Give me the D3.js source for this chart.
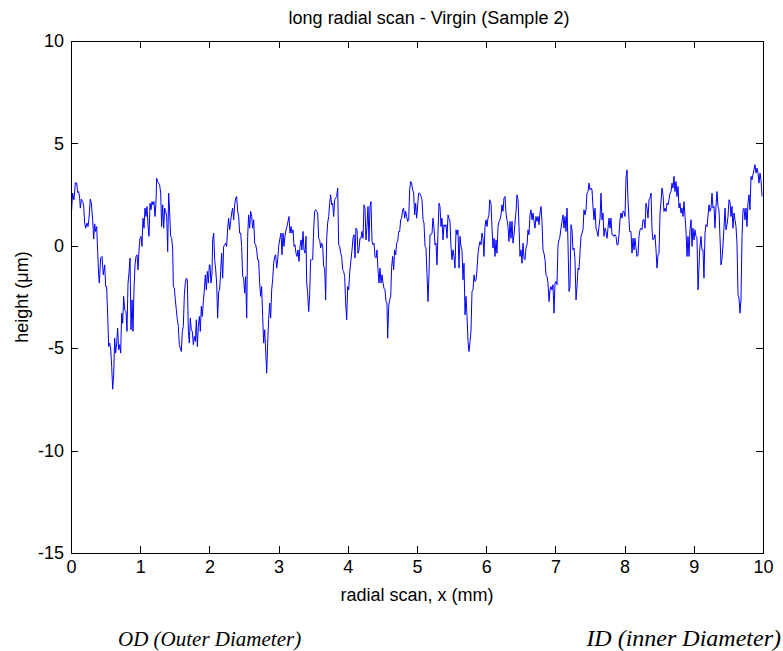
<!DOCTYPE html>
<html>
<head>
<meta charset="utf-8">
<script src="https://cdn.jsdelivr.net/npm/d3@7"></script>
<style>
  body { margin: 0; background: #fff; }
  svg { display: block; font-family: "Liberation Sans", Arial, sans-serif; }
  .axis path, .axis line { stroke: #000; shape-rendering: crispEdges; }
  .axis text { font-size: 18px; fill: #000; }
</style>
</head>
<body>
<svg width="783" height="651"></svg>
<script>
// radial position along the scan (mm)
var scanX = [
  0.005,
  0.014,0.024,0.043,0.063,0.082,0.096,0.111,0.125,0.135,0.149,
  0.169,0.183,0.198,0.212,0.231,0.246,0.260,0.279,0.294,0.313,
  0.328,0.342,0.356,0.371,0.385,0.400,0.409,0.429,0.448,0.467,
  0.487,0.501,0.515,0.530,0.544,0.559,0.573,0.588,0.602,0.617,
  0.631,0.645,0.660,0.674,0.689,0.703,0.718,0.732,0.747,0.761,
  0.776,0.795,0.809,0.824,0.838,0.853,0.867,0.882,0.896,0.910,
  0.925,0.939,0.954,0.968,0.983,0.997,
  1.012,1.026,1.040,1.055,1.069,1.084,1.098,1.113,1.127,1.142,
  1.156,1.171,1.185,1.199,1.214,1.228,1.238,1.252,1.267,1.281,
  1.296,1.310,1.325,1.339,1.354,1.368,1.383,1.397,1.411,1.426,
  1.440,1.455,1.469,1.479,1.493,1.508,1.522,1.537,1.551,1.565,
  1.580,1.594,1.609,1.623,1.638,1.652,1.667,1.681,1.696,1.710,
  1.724,1.739,1.753,1.768,1.782,1.797,1.811,1.826,1.840,1.855,
  1.869,1.883,1.898,1.912,1.927,1.941,1.956,1.970,1.985,1.999,
  2.009,2.023,2.038,2.047,2.062,2.076,2.091,2.105,2.119,2.134,
  2.148,2.163,2.177,2.192,2.206,2.221,2.235,2.250,2.264,2.278,
  2.293,2.307,2.322,2.336,2.351,2.365,2.380,2.394,2.409,2.423,
  2.437,2.452,2.466,2.481,2.495,2.510,2.524,2.539,2.553,2.567,
  2.582,2.596,2.611,2.625,2.640,2.654,2.669,2.683,2.697,2.712,
  2.726,2.741,2.755,2.770,2.784,2.799,2.813,2.828,2.842,2.856,
  2.871,2.885,2.900,2.914,2.929,2.943,2.958,2.972,2.987,3.001,
  3.015,
  3.035,3.049,3.064,3.078,3.092,3.107,3.121,3.136,3.150,3.165,
  3.179,3.194,3.208,3.223,3.237,3.251,3.266,3.280,3.295,3.309,
  3.324,3.338,3.353,3.367,3.382,3.396,3.406,3.420,3.435,3.449,
  3.463,3.478,3.492,3.507,3.521,3.536,3.550,3.565,3.579,3.594,
  3.608,3.622,3.637,3.651,3.666,3.680,3.695,3.709,3.724,3.738,
  3.752,3.767,3.781,3.796,3.810,3.825,3.839,3.854,3.868,3.883,
  3.897,3.911,3.926,3.940,3.955,3.969,3.984,3.998,4.013,4.027,
  4.046,4.061,4.075,4.090,4.104,4.118,4.133,4.147,4.162,4.176,
  4.191,4.205,4.220,4.234,4.249,4.263,4.277,4.292,4.306,4.321,
  4.335,4.350,4.364,4.379,4.393,4.408,4.422,4.436,4.451,4.465,
  4.480,4.494,4.509,4.523,4.538,4.552,4.566,4.576,4.591,4.605,
  4.620,4.634,4.648,4.663,4.677,4.692,4.706,4.721,4.735,4.750,
  4.764,4.778,4.793,4.807,4.822,4.836,4.851,4.865,4.880,4.894,
  4.908,4.923,4.937,4.952,4.966,4.981,4.995,5.010,5.024,5.039,
  5.058,5.072,5.087,5.101,5.116,5.130,5.145,5.159,5.173,5.188,
  5.202,5.217,5.231,5.246,5.260,5.275,5.289,5.303,5.318,5.332,
  5.347,5.361,5.376,5.390,5.405,5.419,5.434,5.448,5.462,5.477,
  5.491,5.506,5.520,5.535,5.549,5.564,5.578,5.592,5.607,5.621,
  5.636,5.650,5.665,5.679,5.694,5.708,5.723,5.737,5.751,5.766,
  5.780,5.795,5.809,5.824,5.838,5.853,5.867,5.882,5.896,5.910,
  5.925,5.939,5.954,5.968,5.983,5.997,6.012,6.026,6.040,6.050,
  6.069,6.084,6.098,6.113,6.127,6.142,6.156,6.171,6.185,6.199,
  6.214,6.228,6.243,6.257,6.272,6.286,6.301,6.315,6.329,6.344,
  6.358,6.373,6.387,6.402,6.416,6.431,6.445,6.460,6.474,6.488,
  6.503,6.517,6.532,6.546,6.561,6.575,6.590,6.604,6.618,6.633,
  6.647,6.662,6.676,6.691,6.705,6.720,6.734,6.749,6.763,6.777,
  6.792,6.806,6.821,6.835,6.850,6.864,6.879,6.893,6.908,6.922,
  6.936,6.951,6.965,6.980,6.994,7.009,7.023,7.038,7.052,7.062,
  7.081,7.095,7.110,7.124,7.139,7.153,7.168,7.182,7.197,7.211,
  7.225,7.240,7.254,7.269,7.283,7.298,7.312,7.327,7.341,7.355,
  7.370,7.384,7.399,7.413,7.428,7.442,7.457,7.471,7.486,7.500,
  7.514,7.529,7.543,7.558,7.572,7.587,7.601,7.616,7.630,7.645,
  7.659,7.673,7.688,7.702,7.717,7.731,7.746,7.760,7.775,7.789,
  7.803,7.818,7.832,7.847,7.861,7.876,7.890,7.905,7.919,7.934,
  7.948,7.962,7.977,7.991,8.006,8.020,8.035,8.049,8.064,8.073,
  8.092,8.107,8.121,8.136,8.150,8.165,8.179,8.194,8.208,8.223,
  8.237,8.251,8.266,8.280,8.295,8.309,8.324,8.338,8.353,8.367,
  8.382,8.396,8.410,8.425,8.439,8.454,8.468,8.483,8.497,8.512,
  8.526,8.540,8.555,8.569,8.584,8.598,8.613,8.627,8.642,8.656,
  8.671,8.685,8.699,8.714,8.728,8.743,8.757,8.772,8.786,8.801,
  8.815,8.829,8.844,8.858,8.873,8.887,8.902,8.916,8.931,8.945,
  8.960,8.974,8.988,9.003,9.017,9.032,9.046,9.061,9.075,9.085,
  9.104,9.118,9.133,9.147,9.162,9.176,9.191,9.205,9.220,9.234,
  9.249,9.263,9.277,9.292,9.306,9.321,9.335,9.350,9.364,9.379,
  9.393,9.408,9.422,9.436,9.451,9.465,9.480,9.494,9.509,9.523,
  9.538,9.552,9.566,9.581,9.595,9.610,9.624,9.639,9.653,9.668,
  9.682,9.697,9.711,9.725,9.740,9.754,9.769,9.783,9.798,9.812,
  9.827,9.841,9.855,9.870,9.884,9.899,9.913,9.928,9.942,9.957,
  9.971,9.986
];

// surface height (um) at each scanX position
var heightUm = [
  1.51,
  2.08,2.57,2.25,3.09,3.06,2.60,2.65,2.33,1.84,2.28,
  2.16,1.95,1.11,0.86,1.11,0.94,1.35,2.28,2.08,1.27,
  0.33,1.07,0.70,0.94,-0.28,-1.42,-1.82,-0.60,-0.52,-1.42,
  -0.93,-1.99,-1.99,-3.37,-4.92,-4.75,-5.00,-5.89,-7.00,-6.30,
  -4.51,-5.24,-4.75,-4.02,-5.08,-4.83,-5.24,-3.29,-3.78,-2.47,
  -3.13,-3.21,-4.18,-1.82,-1.33,-0.60,-4.10,-2.64,-4.18,-2.15,
  -0.93,-0.52,-0.44,-1.17,-0.20,0.37,
  0.46,-0.03,1.35,0.86,1.84,1.43,1.92,1.03,0.46,2.08,
  1.76,2.16,2.00,2.16,1.43,2.08,3.30,3.14,3.06,2.98,
  2.57,0.94,2.00,0.86,1.84,1.68,1.43,-0.28,2.57,1.60,
  0.46,0.37,-0.11,-1.99,-2.07,-2.64,-3.13,-3.61,-3.94,-4.83,
  -5.00,-5.16,-4.18,-3.94,-2.39,-1.82,-1.58,-1.66,-4.18,-4.75,
  -3.53,-4.10,-4.18,-4.83,-4.43,-4.67,-3.61,-4.92,-3.94,-3.45,
  -4.18,-2.96,-3.45,-2.72,-2.15,-1.42,-2.15,-1.25,-1.82,-0.93,
  -0.93,-1.82,-1.33,0.29,0.62,-0.68,-1.17,-1.82,-3.53,-2.23,
  -2.15,-1.25,-0.36,-1.58,-0.03,0.05,0.13,-0.03,0.86,1.35,
  0.78,1.19,1.60,1.84,1.27,2.00,2.33,2.41,1.68,1.43,
  0.62,0.62,-0.03,-1.50,-1.58,-2.31,-1.50,-3.53,0.46,1.51,
  0.86,1.68,1.43,0.86,1.27,0.13,0.05,-0.20,-0.68,-0.68,
  -1.82,-2.47,-1.99,-3.45,-4.75,-4.10,-5.08,-6.22,-4.75,-3.61,
  -2.80,-3.53,-2.15,-1.66,-0.85,-0.52,-0.44,-1.09,-0.68,-0.03,
  0.29,
  0.62,-0.44,0.62,-0.03,0.46,0.78,0.94,1.19,1.43,0.62,
  0.94,0.62,0.78,-0.03,0.05,-0.36,-0.52,-0.20,-0.76,-0.03,
  0.29,-0.20,0.70,-0.20,-0.36,0.46,-1.82,-2.31,-3.21,-2.39,
  -0.68,-0.68,-0.68,0.78,1.68,1.76,1.68,1.60,0.37,0.29,
  -0.11,0.13,-0.03,-1.01,-1.09,-2.64,0.37,1.11,1.43,2.08,
  2.49,2.00,2.08,1.43,2.25,2.33,2.41,2.82,0.05,-0.03,
  -0.36,-0.52,-1.17,-1.25,-1.50,-2.80,-3.61,-1.99,-2.15,-1.33,
  -0.68,-0.20,0.37,0.54,-0.60,0.86,0.78,-0.36,-0.20,0.37,
  0.37,0.70,0.37,2.00,1.84,0.29,0.94,1.92,0.21,1.92,
  2.16,0.21,0.05,0.13,-0.52,-0.60,-0.20,-1.17,-1.82,-1.09,
  -1.82,-1.42,-1.82,-2.07,-2.15,-2.72,-2.80,-4.51,-2.96,-2.64,
  -2.47,-1.01,-0.52,-1.17,-0.20,-0.44,0.13,0.21,0.70,0.70,
  1.27,1.35,1.76,1.84,1.35,1.68,1.43,1.19,1.27,2.73,
  3.14,3.06,2.73,2.57,1.51,2.08,1.35,2.00,2.57,2.57,
  2.41,2.25,1.27,1.11,-0.03,-0.11,-1.42,-2.72,-1.42,0.54,
  0.54,0.62,1.35,0.86,0.05,0.13,-0.93,0.62,2.08,1.92,
  0.94,1.35,0.29,1.03,0.94,1.03,0.37,1.51,1.35,1.19,
  -0.03,-0.68,-0.20,-0.52,-1.09,0.78,0.54,0.78,-1.09,0.46,
  -0.03,-0.20,-1.66,-0.85,-3.37,-2.47,-3.45,-4.67,-5.16,-4.67,
  -4.18,-2.23,-2.15,-1.42,-1.74,-1.66,-1.17,-0.36,-0.03,0.21,
  0.05,0.62,0.37,-0.52,0.94,1.27,0.94,1.35,1.51,2.25,
  2.08,0.86,-0.11,0.37,-0.52,0.29,-0.36,0.94,1.19,1.27,
  1.51,2.00,1.68,2.33,2.41,1.60,1.27,0.94,0.21,1.19,
  0.37,1.19,0.13,0.54,1.11,1.68,2.49,2.25,0.94,-0.52,
  -0.20,-0.85,0.13,-0.60,-0.68,-0.11,0.05,0.78,0.54,1.51,
  1.76,1.27,1.60,1.19,0.86,1.43,1.19,1.43,1.03,1.60,
  1.92,1.19,-0.20,-0.36,-0.68,-1.42,-1.50,-1.82,-2.72,-2.15,
  -1.99,-2.15,-1.90,-3.29,-1.82,-1.74,-1.90,0.05,0.29,0.37,
  0.86,1.19,1.51,0.86,1.43,0.70,1.84,0.13,-2.23,-1.99,
  1.03,0.78,-0.20,-0.11,-0.68,-2.64,-1.99,-1.09,-1.17,-0.36,
  0.46,0.62,0.78,1.76,1.51,1.76,2.57,2.65,3.06,2.73,
  2.82,2.73,1.92,1.27,1.84,0.86,0.70,0.46,0.94,1.35,
  2.57,1.27,1.60,0.46,0.86,0.70,0.37,0.86,1.35,0.86,
  1.35,0.54,0.54,0.46,0.54,0.46,0.05,0.05,0.54,1.27,
  1.60,1.35,1.68,1.68,1.43,3.30,3.71,2.25,1.27,0.70,
  0.70,-0.36,0.37,-0.20,0.37,-0.11,-0.52,-0.44,0.46,0.78,
  0.86,0.78,1.27,1.27,0.86,2.08,1.84,1.35,2.25,2.33,
  2.57,0.78,0.29,0.37,0.54,-0.20,-1.09,-0.44,-0.36,1.60,
  2.16,2.82,2.49,1.68,1.84,1.68,2.08,2.00,2.25,2.57,
  2.65,3.06,2.82,3.39,2.65,3.14,2.41,2.90,1.84,2.08,
  1.60,1.84,1.43,2.16,1.43,0.78,-0.52,0.46,-0.52,0.78,
  1.27,-0.03,0.86,0.29,0.78,0.46,0.37,-2.15,-1.09,-0.20,
  0.46,-0.20,-0.20,-1.58,0.62,1.03,0.94,1.43,2.00,1.68,
  1.84,2.57,1.84,1.92,0.86,1.92,2.65,1.92,1.76,0.37,
  -0.93,-0.60,0.05,0.86,1.84,0.78,1.03,1.43,2.25,2.16,
  1.43,1.92,0.86,1.60,1.27,0.94,0.13,-2.39,-2.55,-3.29,
  -2.64,0.46,1.76,1.84,1.27,1.84,0.94,2.08,2.49,1.76,
  3.39,3.22,3.47,3.71,3.96,3.55,3.79,3.55,3.06,3.55,
  3.22,2.41
];

var xTicks = [0, 1, 2, 3, 4, 5, 6, 7, 8, 9, 10];
var yTicks = [-15, -10, -5, 0, 5, 10];
var xDomain = [0, 10];
var yDomain = [-15, 10];

var chartTitle = 'long radial scan - Virgin (Sample 2)';
var xTitle = 'radial scan, x (mm)';
var yTitle = 'height (\u03bcm)';
var leftNote = 'OD (Outer Diameter)';
var rightNote = 'ID (inner Diameter)';

var svg = d3.select('svg');

// plot box
var box = {l: 71, t: 41, r: 763, b: 553};
var tickLen = 7;

var x = d3.scaleLinear().domain(xDomain).range([box.l, box.r]);
var y = d3.scaleLinear().domain(yDomain).range([box.b, box.t]);

// plain hyphen for negatives, like the original
var plainNum = function(d) { return String(d); };

var points = scanX.map(function(d, i) { return [d, heightUm[i]]; });

// the profile
svg.append('path')
    .datum(points)
    .attr('fill', 'none')
    .attr('stroke', '#0000ff')
    .attr('stroke-width', 1)
    .attr('d', d3.line()
        .x(function(d) { return x(d[0]); })
        .y(function(d) { return y(d[1]); }));

// axes, ticks pointing inwards like matlab
svg.append('g')
    .attr('class', 'axis')
    .attr('transform', 'translate(0,' + box.b + ')')
    .call(d3.axisBottom(x).tickValues(xTicks).tickFormat(plainNum)
        .tickSizeInner(-tickLen).tickSizeOuter(0).tickPadding(7));

svg.append('g')
    .attr('class', 'axis')
    .attr('transform', 'translate(' + box.l + ',0)')
    .call(d3.axisLeft(y).tickValues(yTicks).tickFormat(plainNum)
        .tickSizeInner(-tickLen).tickSizeOuter(0).tickPadding(7));

svg.append('g')
    .attr('class', 'axis')
    .attr('transform', 'translate(0,' + box.t + ')')
    .call(d3.axisTop(x).tickValues(xTicks).tickSizeInner(-tickLen).tickSizeOuter(0).tickFormat(''));

svg.append('g')
    .attr('class', 'axis')
    .attr('transform', 'translate(' + box.r + ',0)')
    .call(d3.axisRight(y).tickValues(yTicks).tickSizeInner(-tickLen).tickSizeOuter(0).tickFormat(''));

// titles
svg.append('text')
    .attr('x', (box.l + box.r) / 2 + 12)
    .attr('y', 24)
    .attr('text-anchor', 'middle')
    .style('font-size', '18px')
    .text(chartTitle);

svg.append('text')
    .attr('x', (box.l + box.r) / 2)
    .attr('y', 601)
    .attr('text-anchor', 'middle')
    .style('font-size', '18px')
    .text(xTitle);

svg.append('text')
    .attr('transform', 'translate(28,' + ((box.t + box.b) / 2) + ') rotate(-90)')
    .attr('text-anchor', 'middle')
    .style('font-size', '18px')
    .text(yTitle);

// notes under the chart
svg.append('text')
    .attr('x', 118)
    .attr('y', 646)
    .style('font-family', '"Liberation Serif", "Times New Roman", serif')
    .style('font-style', 'italic')
    .style('font-size', '21px')
    .text(leftNote);

svg.append('text')
    .attr('x', 781)
    .attr('y', 646)
    .attr('text-anchor', 'end')
    .style('font-family', '"Liberation Serif", "Times New Roman", serif')
    .style('font-style', 'italic')
    .style('font-size', '24px')
    .text(rightNote);
</script>
</body>
</html>
